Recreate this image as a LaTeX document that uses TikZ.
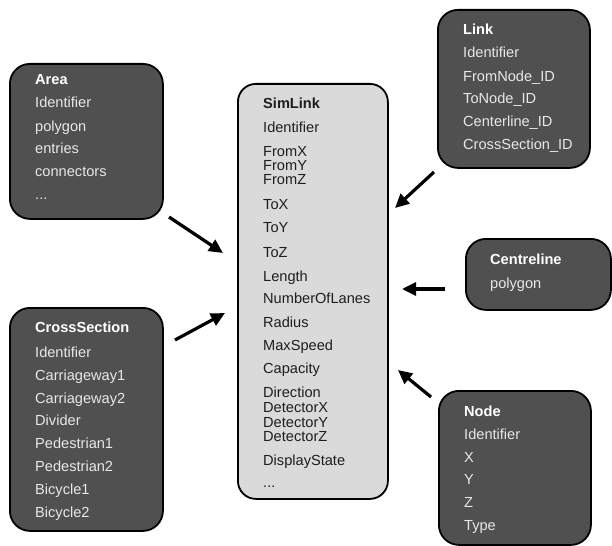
\documentclass[tikz,border=0pt]{standalone}
\usepackage{fontspec}
\setmainfont{Liberation Sans}
\usetikzlibrary{arrows.meta}
\definecolor{boxdark}{HTML}{505050}
\definecolor{boxlight}{HTML}{DADADA}
\definecolor{txtlight}{HTML}{E8E8E8}
\definecolor{txtdark}{HTML}{1E1E1E}
\newcommand{\moredots}{...}
\newcommand{\fieldsize}{\fontsize{14.6bp}{17bp}\selectfont}
\begin{document}
\begin{tikzpicture}[x=1bp,y=-1bp,
  darkbox/.style={draw=black, line width=1.8bp, fill=boxdark, rounded corners=20bp,
    inner sep=0pt, anchor=north west},
  lightbox/.style={draw=black, line width=1.8bp, fill=boxlight, rounded corners=18bp,
    inner sep=0pt, anchor=north west},
  fieldtxt/.style={anchor=base west, inner sep=0pt, font=\fieldsize},
  lightfield/.style={fieldtxt, text=txtlight},
  lighttitle/.style={fieldtxt, text=white, font=\fieldsize\bfseries},
  darkfield/.style={fieldtxt, text=txtdark},
  darktitle/.style={fieldtxt, text=txtdark, font=\fieldsize\bfseries},
  arr/.style={line width=3.2bp, -{Triangle[length=14bp,width=13bp]}}]
\useasboundingbox (0,0) rectangle (612,546);

% boxes
\node[darkbox, minimum width=153bp, minimum height=155bp] (area) at (9,63) {};
\node[lightbox, minimum width=150bp, minimum height=415bp] (simlink) at (237,83) {};
\node[darkbox, minimum width=152bp, minimum height=158bp] (link) at (437,9) {};
\node[darkbox, minimum width=153bp, minimum height=223bp] (cross) at (9,307) {};
\node[darkbox, minimum width=145bp, minimum height=71bp] (centre) at (465,238) {};
\node[darkbox, minimum width=152bp, minimum height=154bp] (node) at (438,390) {};

% Area
\node[lighttitle] (area-t) at (35,85) {Area};
\foreach [count=\i] \yy/\txt in {103/Identifier,127/polygon,149/entries,172/connectors,195/\moredots}
  \node[lightfield] (area-f\i) at (35,\yy+5) {\txt};

% Link
\node[lighttitle] (link-t) at (463,35) {Link};
\foreach [count=\i] \yy/\txt in {53/Identifier,77/FromNode\_ID,99/ToNode\_ID,122/Centerline\_ID,145/CrossSection\_ID}
  \node[lightfield] (link-f\i) at (463,\yy+5) {\txt};

% CrossSection
\node[lighttitle] (cross-t) at (35,332) {CrossSection};
\foreach [count=\i] \yy/\txt in {352/Identifier,375/Carriageway1,398/Carriageway2,420/Divider,443/Pedestrian1,466/Pedestrian2,489/Bicycle1,512/Bicycle2}
  \node[lightfield] (cross-f\i) at (35,\yy+5) {\txt};

% Centreline
\node[lighttitle] (centre-t) at (490,264) {Centreline};
\node[lightfield] (centre-f1) at (490,288) {polygon};

% Node
\node[lighttitle] (node-t) at (464,416) {Node};
\foreach [count=\i] \yy/\txt in {434/Identifier,457/X,479/Y,502/Z,525/Type}
  \node[lightfield] (node-f\i) at (464,\yy+5) {\txt};

% SimLink
\node[darktitle] (sim-t) at (263,109) {SimLink};
\foreach [count=\i] \yy/\txt in {128/Identifier,152/FromX,166/FromY,180/FromZ,205/ToX,228/ToY,252/ToZ,276/Length,298/NumberOfLanes,322/Radius,345/MaxSpeed,368/Capacity,392/Direction,407/DetectorX,422/DetectorY,436/DetectorZ,460/DisplayState,482/\moredots}
  \node[darkfield] (sim-f\i) at (263,\yy+5) {\txt};

% connector end points
\coordinate (areaTail) at (169,217);  \coordinate (areaTip) at (223,253);
\coordinate (crossTail) at (175,340); \coordinate (crossTip) at (225,313);
\coordinate (linkTail) at (434,172);  \coordinate (linkTip) at (395,208);
\coordinate (centreTail) at (445,289); \coordinate (centreTip) at (402,289);
\coordinate (nodeTail) at (431,397);  \coordinate (nodeTip) at (398,370);

\draw[arr] (areaTail) -- (areaTip);
\draw[arr] (crossTail) -- (crossTip);
\draw[arr] (linkTail) -- (linkTip);
\draw[arr] (centreTail) -- (centreTip);
\draw[arr] (nodeTail) -- (nodeTip);
\end{tikzpicture}
\end{document}
